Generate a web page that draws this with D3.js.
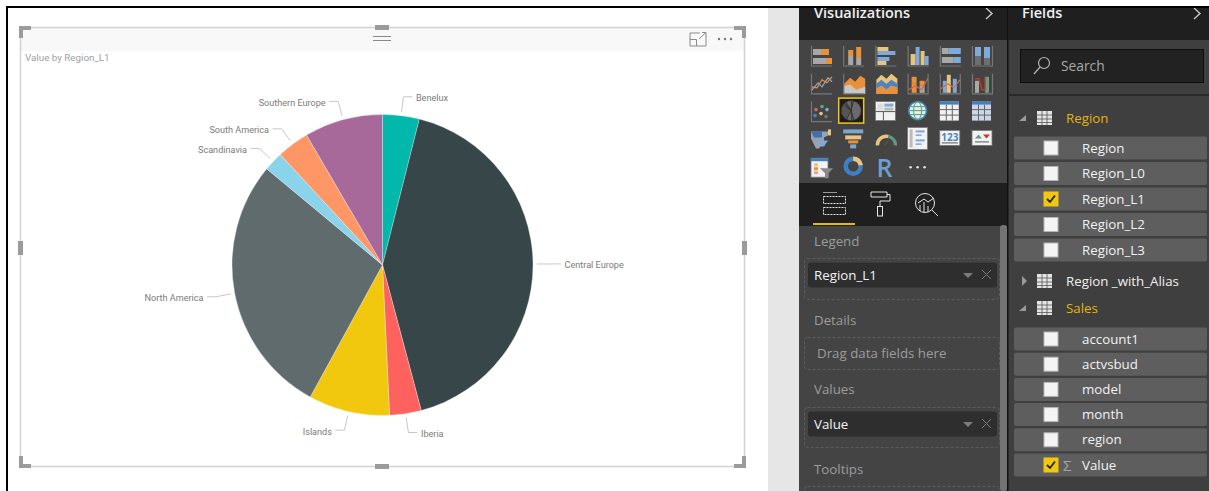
<!DOCTYPE html>
<html>
<head>
<meta charset="utf-8">
<script src="https://cdn.jsdelivr.net/npm/d3@7"></script>
<style>
  html, body { margin: 0; padding: 0; background: #fff; overflow: hidden; }
  svg { display: block; }
  text { font-family: "Open Sans", "Noto Sans", sans-serif; }
</style>
</head>
<body>
<svg id="report" width="1209" height="491"></svg>
<script>
// Sales by region, in the order the slices run clockwise from twelve o'clock
const regions = ["Benelux", "Central Europe", "Iberia", "Islands", "North America", "Scandinavia", "South America", "Southern Europe"];
const values = [3.94, 41.92, 3.39, 8.72, 28.06, 2.08, 3.47, 8.42];
const sliceColors = ["#01b8aa", "#374649", "#fd625e", "#f2c80f", "#5f6b6d", "#8ad4eb", "#fe9666", "#a66999"];
const chartTitle = "Value by Region_L1";

// Field list contents
const regionFields = ["Region", "Region_L0", "Region_L1", "Region_L2", "Region_L3"];
const salesFields = ["account1", "actvsbud", "model", "month", "region", "Value"];
const checkedFields = ["Region_L1", "Value"];

// Visualization gallery, row by row
const galleryIcons = [
  ["stackH", "stackV", "clusterH", "clusterV", "fullH", "fullV"],
  ["line", "area", "stackedArea", "lineStack", "lineCluster", "ribbon"],
  ["scatter", "pie", "treemap", "globe", "table", "matrix"],
  ["map", "funnel", "gauge", "card", "number", "kpi"],
  ["slicer", "donut", "r", "more"]
];

const svg = d3.select("#report");
const orange = "#e8913a", tan = "#e9c47c", blue = "#7ea9d8", grey = "#a8a8a8", axis = "#777";
const paneFont = 13.3;

function box(g, x, y, w, h, fill, extra) {
  const r = g.append("rect").attr("x", x).attr("y", y).attr("width", w).attr("height", h).attr("fill", fill);
  if (extra) Object.entries(extra).forEach(([k, v]) => r.attr(k, v));
  return r;
}
function label(g, x, y, str, size, color, extra) {
  const t = g.append("text").attr("x", x).attr("y", y).attr("dominant-baseline", "central")
    .attr("font-size", size).attr("fill", color).text(str);
  if (extra) Object.entries(extra).forEach(([k, v]) => t.attr(k, v));
  return t;
}

/* ---------- canvas frame ---------- */
box(svg, 0, 0, 1209, 491, "#fff");
box(svg, 768, 8, 31, 483, "#e6e6e6");

/* ---------- visual container ---------- */
const frame = svg.append("g");
box(frame, 21, 28, 723, 23, "#f8f8f8");
frame.append("rect").attr("x", 20.5).attr("y", 27.5).attr("width", 724).attr("height", 439)
  .attr("fill", "none").attr("stroke", "#d2d2d2").attr("stroke-width", 1.5);
// corner and edge grips
const gripColor = "#9b9b9b";
[[19, 26, 1, 1], [746, 26, -1, 1], [19, 468, 1, -1], [746, 468, -1, -1]].forEach(([x, y, sx, sy]) => {
  box(frame, sx > 0 ? x : x - 12, sy > 0 ? y : y - 4, 12, 4, gripColor);
  box(frame, sx > 0 ? x : x - 4, sy > 0 ? y : y - 12, 4, 12, gripColor);
});
box(frame, 375, 25, 14, 5, gripColor);
box(frame, 375, 464, 14, 5, gripColor);
box(frame, 18, 241, 5, 14, gripColor);
box(frame, 742, 241, 5, 14, gripColor);
// drag handle
box(frame, 373, 36, 18, 1, "#888");
box(frame, 373, 40, 18, 1, "#888");
// focus mode and more-options glyphs
frame.append("path").attr("d", "M700 33H690V46H706V36M690 39.5H696.5V46M699 39L706 32.5M702 32.5H706V36.5")
  .attr("fill", "none").attr("stroke", "#8a8a8a").attr("stroke-width", 1);
[719, 725, 731].forEach(x => frame.append("circle").attr("cx", x).attr("cy", 39).attr("r", 1.2).attr("fill", "#777"));

label(frame, 25, 57.5, chartTitle, 9.8, "#a0a0a0").style("font-family", "Roboto");

/* ---------- pie ---------- */
const cx = 382.5, cy = 265, radius = 150.5;
const pie = d3.pie().sort(null).value(d => d)(values);
const arc = d3.arc().innerRadius(0).outerRadius(radius);
const chart = svg.append("g").attr("transform", `translate(${cx},${cy})`);
const color = d3.scaleOrdinal(regions, sliceColors);

chart.selectAll("path.slice").data(pie).join("path")
  .attr("class", "slice")
  .attr("d", arc)
  .attr("fill", (d, i) => color(regions[i]))
  .attr("stroke", "#fff").attr("stroke-width", 0.3);

// Leader lines: out along the mid-angle, then a short horizontal run to the label
const leadStart = d3.arc().innerRadius(radius + 4).outerRadius(radius + 4);
const leadElbow = d3.arc().innerRadius(radius + 19).outerRadius(radius + 19);
const leaderRun = 9, labelGap = 3.5, labelDrop = 1.5;

function side(d) { return (d.startAngle + d.endAngle) / 2 < Math.PI ? 1 : -1; }

chart.selectAll("polyline.leader").data(pie).join("polyline")
  .attr("class", "leader")
  .attr("fill", "none").attr("stroke", "#c8c8c8").attr("stroke-width", 1)
  .attr("points", d => {
    const a = leadStart.centroid(d), b = leadElbow.centroid(d);
    return [a, b, [b[0] + side(d) * leaderRun, b[1]]].join(" ");
  });

chart.selectAll("text.region").data(pie).join("text")
  .attr("class", "region")
  .attr("x", d => leadElbow.centroid(d)[0] + side(d) * (leaderRun + labelGap))
  .attr("y", d => leadElbow.centroid(d)[1] + labelDrop)
  .attr("dominant-baseline", "central")
  .attr("text-anchor", d => side(d) > 0 ? "start" : "end")
  .attr("font-size", 9.1)
  .attr("fill", "#7b7b7b")
  .style("font-family", "Roboto")
  .text((d, i) => regions[i]);

/* ---------- visualizations pane ---------- */
const viz = svg.append("g");
box(viz, 799, 8, 208, 483, "#444444");
box(viz, 799, 8, 208, 32, "#1f1f1f");
label(viz, 814, 12.5, "Visualizations", 14.5, "#f0f0f0", { "font-weight": 600 });
viz.append("path").attr("d", "M986 8L992 13.5L986 19").attr("fill", "none").attr("stroke", "#c8c8c8").attr("stroke-width", 1.4);

const iconGroup = viz.append("g");
const colStep = 32.2, rowStep = 27.8;

function drawIcon(type, g) {
  const bar = (x, y, w, h, f) => box(g, x, y, w, h, f);
  const lineTo = (d, s, w) => g.append("path").attr("d", d).attr("fill", "none").attr("stroke", s).attr("stroke-width", w || 1.2);
  const baseL = () => lineTo("M0.5 0V20H21", axis, 1.2);
  const baseLR = () => lineTo("M0.5 0V20H21M20.5 0V20", axis, 1.2);
  const paper = (x, y, w, h) => box(g, x, y, w, h, "#f2f2f2", { stroke: "#777", "stroke-width": 0.8 });
  switch (type) {
    case "stackH":
      baseL(); bar(2, 3, 8, 6, grey); bar(10, 3, 8, 6, orange); bar(2, 12, 13, 6, grey); bar(15, 12, 6, 6, orange); break;
    case "stackV":
      baseL(); bar(5, 10, 5, 9, grey); bar(5, 4, 5, 6, orange); bar(13, 12, 5, 7, grey); bar(13, 1, 5, 11, orange); break;
    case "clusterH":
      baseL(); bar(2, 1, 11, 4, tan); bar(2, 5, 18, 4, blue); bar(2, 11, 12, 4, blue); bar(2, 15, 9, 4, tan); break;
    case "clusterV":
      baseL(); bar(3, 8, 5, 11, tan); bar(8, 1, 4, 18, blue); bar(13, 5, 4, 14, tan); bar(17, 10, 4, 9, blue); break;
    case "fullH":
      baseL(); bar(2, 2, 7, 6, grey); bar(9, 2, 12, 6, blue); bar(2, 11, 12, 6, grey); bar(14, 11, 7, 6, blue); break;
    case "fullV":
      baseLR(); bar(3, 10, 6, 9, "#6e6e6e"); bar(3, 1, 6, 9, blue); bar(12, 12, 6, 7, "#6e6e6e"); bar(12, 1, 6, 11, blue); break;
    case "line":
      baseL(); lineTo("M1 16L7 9L11 13L17 4L21 8", blue); lineTo("M1 13L6 14L11 6L16 9L21 3", orange); break;
    case "area":
      g.append("path").attr("d", "M1 20V10L7 4L12 8L17 2L22 5V20Z").attr("fill", orange);
      g.append("path").attr("d", "M1 20V12L7 11L13 16L22 13V20Z").attr("fill", "#c8c8c8"); baseL(); break;
    case "stackedArea":
      g.append("path").attr("d", "M1 20V6L6 1L11 5L16 0L22 5V20Z").attr("fill", tan);
      g.append("path").attr("d", "M1 15V10L6 6L11 10L16 6L22 10V14L16 12L11 16L6 12Z").attr("fill", "#4f83c2");
      g.append("path").attr("d", "M1 20V15L6 12L11 16L16 12L22 14V20Z").attr("fill", orange); break;
    case "lineStack":
      baseLR(); bar(4, 10, 5, 9, orange); bar(4, 3, 5, 7, orange); bar(12, 12, 5, 7, grey); bar(12, 7, 5, 5, orange); lineTo("M1 16L8 12L14 16L20 5", "#c96a5a"); break;
    case "lineCluster":
      baseLR(); bar(3, 7, 4, 12, blue); bar(7, 1, 4, 18, tan); bar(13, 5, 4, 14, blue); lineTo("M1 15L8 10L14 14L20 6", "#d96a4a"); break;
    case "ribbon":
      baseLR(); bar(3, 7, 4, 12, grey); bar(13, 3, 4, 16, "#6aa08a"); lineTo("M3 5H7L10 16L13 16L13 3", "#c0392b", 1.4); break;
    case "scatter":
      baseL();
      [[5, 8, "#c96a5a"], [11, 5, "#6aa08a"], [16, 8, blue], [4, 14, "#4f83c2"], [10, 12, tan], [15, 15, "#777"]]
        .forEach(([x, y, f]) => g.append("circle").attr("cx", x).attr("cy", y).attr("r", 1.8).attr("fill", f));
      break;
    case "pie": {
      box(g, -4.5, -3.5, 25, 25, "#1c1c1c", { stroke: "#f2c80f", "stroke-width": 1.5 });
      const mini = d3.pie().sort(null)(values);
      const a = d3.arc().innerRadius(0).outerRadius(10);
      g.append("g").attr("transform", "translate(8,9)").selectAll("path").data(mini).join("path")
        .attr("d", a).attr("fill", (d, i) => i % 2 ? "#6a6a6a" : "#555").attr("stroke", "#2a2a2a").attr("stroke-width", 0.5);
      break;
    }
    case "treemap":
      paper(0, 0, 20, 19); box(g, 2, 2, 6, 7, "#ddd"); box(g, 9, 2, 9, 3, blue); box(g, 9, 6, 9, 3, "#bbb");
      g.append("path").attr("d", "M0 10H20M8 10V19").attr("stroke", "#555").attr("stroke-width", 1); break;
    case "globe":
      g.append("circle").attr("cx", 10).attr("cy", 9).attr("r", 9).attr("fill", "#dfeee8").attr("stroke", "#3f80b8").attr("stroke-width", 1.6);
      lineTo("M1 9H19M2.5 5H17.5M2.5 13H17.5", "#5aa07f", 1);
      g.append("ellipse").attr("cx", 10).attr("cy", 9).attr("rx", 4).attr("ry", 9).attr("fill", "none").attr("stroke", "#5aa07f"); break;
    case "table":
    case "matrix":
      box(g, 0, 0, 19, 19, type === "table" ? "#f2f2f2" : "#c9d7e8");
      box(g, 0, 0, 19, 3, "#3f7fc4");
      lineTo("M6.5 3V19M12.5 3V19M0 8H19M0 13.5H19", "#666", 1); break;
    case "map":
      g.append("path").attr("d", "M0 2H17V6L13 8V12L8 19H5L2 13L0 9Z").attr("fill", "#99a3ad");
      g.append("path").attr("d", "M0 2H11V8H3Z").attr("fill", "#3f6fb0");
      g.append("path").attr("d", "M8 11H17L13 17H9Z").attr("fill", blue);
      bar(17, 0, 3, 6, tan); break;
    case "funnel":
      bar(0, 0, 20, 4, "#7da6cf"); bar(2, 6, 16, 4, tan); bar(5, 11, 10, 3, orange); bar(7, 15, 6, 4, "#7da6cf"); break;
    case "gauge":
      lineTo("M2 16A9 9 0 0 1 13 7", tan, 3.5); lineTo("M13 7A9 9 0 0 1 20 16", "#5f9a80", 3.5); lineTo("M9 16L13 11", "#555", 1.2); break;
    case "card":
      paper(0, -2, 20, 22); box(g, 2, 0, 3, 18, "#bbb"); box(g, 8, 1, 9, 2, blue); box(g, 8, 5, 6, 1.5, blue); box(g, 8, 10, 9, 2, blue); box(g, 8, 14, 6, 1.5, blue); break;
    case "number":
      paper(0, 1, 20, 15);
      g.append("text").attr("x", 10).attr("y", 8).attr("text-anchor", "middle").attr("dominant-baseline", "central")
        .attr("font-size", 10).attr("font-weight", 700).attr("fill", "#4f83c2").text("123");
      box(g, 2, 13, 16, 1, "#555"); break;
    case "kpi":
      paper(0, 1, 20, 15);
      g.append("path").attr("d", "M3 9L6.5 5L10 9Z").attr("fill", "#5f9a80");
      g.append("path").attr("d", "M11 5H18L14.5 9Z").attr("fill", "#c0392b");
      box(g, 3, 12, 14, 1, "#555"); break;
    case "slicer":
      paper(0, 1, 17, 19); box(g, 0, 1, 17, 3, "#3f7fc4"); box(g, 3, 6, 4, 3, tan); box(g, 3, 10, 4, 3, orange); box(g, 3, 14, 4, 3, "#e8a39a");
      g.append("path").attr("d", "M9 11H22L17.5 16V21H14V16Z").attr("fill", "#8a8a8a"); break;
    case "donut":
      g.append("circle").attr("cx", 10).attr("cy", 9).attr("r", 7.5).attr("fill", "none").attr("stroke", "#3f7fc4").attr("stroke-width", 4.5);
      lineTo("M10 1.5A7.5 7.5 0 0 1 17.5 8", tan, 4.5); break;
    case "r":
      g.append("text").attr("x", 9).attr("y", 10).attr("text-anchor", "middle").attr("dominant-baseline", "central")
        .attr("font-size", 25).attr("font-weight", 600).attr("fill", "#6f9fd0").text("R"); break;
    case "more":
      [3, 10, 17].forEach(x => g.append("circle").attr("cx", x).attr("cy", 10).attr("r", 1.2).attr("fill", "#e8e8e8")); break;
  }
}

galleryIcons.forEach((row, r) => row.forEach((type, c) => {
  const g = iconGroup.append("g").attr("transform", `translate(${811 + c * colStep},${46 + r * rowStep})`);
  drawIcon(type, g);
}));

// Tab strip: fields, format, analytics
box(viz, 799, 183, 208, 43, "#1f1f1f");
box(viz, 813, 223, 42, 2, "#e6b80c");
const tabs = viz.append("g").attr("fill", "none").attr("stroke", "#e6e6e6").attr("stroke-width", 1);
tabs.append("path").attr("d", "M823 192.5H837").attr("stroke", "#999");
tabs.append("rect").attr("x", 823.5).attr("y", 196.5).attr("width", 22).attr("height", 7).attr("stroke-dasharray", "2 1");
tabs.append("rect").attr("x", 823.5).attr("y", 207.5).attr("width", 22).attr("height", 7).attr("stroke-dasharray", "2 1");
tabs.append("path").attr("d", "M871 192H887V197H871ZM887 194.5H890V201H880V206");
tabs.append("rect").attr("x", 877.5).attr("y", 206.5).attr("width", 5).attr("height", 9.5);
tabs.append("circle").attr("cx", 925).attr("cy", 203).attr("r", 9.5);
tabs.append("path").attr("d", "M932 210L938 216M920 211V205M924 212V202M928 212V206M918 203L924 199L928 202L934 198");

// Field wells
box(viz, 1000, 225, 7, 266, "#747474", { rx: 3 });
const wellHeaders = [["Legend", 241], ["Details", 320], ["Values", 389], ["Tooltips", 469]];
wellHeaders.forEach(([t, y]) => label(viz, 814, y, t, paneFont, "#9c9c9c"));
const dashed = { fill: "none", stroke: "#5c5c5c", "stroke-dasharray": "3 2", rx: 3 };
box(viz, 804.5, 258.5, 195, 41, "none", dashed);
box(viz, 804.5, 337.5, 195, 32, "none", dashed);
box(viz, 804.5, 407.5, 195, 40, "none", dashed);
box(viz, 804.5, 486.5, 195, 20, "none", dashed);
label(viz, 817, 353, "Drag data fields here", paneFont, "#9c9c9c");

[["Region_L1", 275], ["Value", 424]].forEach(([t, y]) => {
  box(viz, 808, y - 12.5, 189, 25, "#2e2e2e", { rx: 3 });
  label(viz, 814, y - 0.5, t, paneFont, "#f2f2f2");
  viz.append("path").attr("d", `M963 ${y - 2}H973L968 ${y + 3}Z`).attr("fill", "#7c7c7c");
  viz.append("path").attr("d", `M982 ${y - 5}L991 ${y + 4}M991 ${y - 5}L982 ${y + 4}`).attr("stroke", "#7c7c7c").attr("stroke-width", 1);
});

/* ---------- fields pane ---------- */
const fields = svg.append("g");
box(fields, 1007, 8, 202, 483, "#3f3f3f");
box(fields, 1007, 8, 1.5, 483, "#111");
box(fields, 1008, 8, 201, 32, "#1f1f1f");
box(fields, 1008, 94, 201, 2, "#2a2a2a");
label(fields, 1022, 12.5, "Fields", 14.5, "#f0f0f0", { "font-weight": 600 });
fields.append("path").attr("d", "M1194 8L1200 13.5L1194 19").attr("fill", "none").attr("stroke", "#c8c8c8").attr("stroke-width", 1.4);

// Search box
box(fields, 1020.5, 49.5, 183, 33, "#222", { stroke: "#0d0d0d", "stroke-width": 1 });
fields.append("circle").attr("cx", 1044).attr("cy", 63).attr("r", 5.5).attr("fill", "none").attr("stroke", "#b5b5b5").attr("stroke-width", 1.2);
fields.append("path").attr("d", "M1040 67L1034 74").attr("stroke", "#b5b5b5").attr("stroke-width", 1.2);
label(fields, 1061, 65.5, "Search", 13.8, "#a8a8a8");

function tableGlyph(y) {
  box(fields, 1037, y - 7, 15, 14, "#e4e4e4");
  fields.append("path").attr("d", `M1042 ${y - 7}V${y + 7}M1047 ${y - 7}V${y + 7}M1037 ${y - 3}H1052M1037 ${y + 1}H1052M1037 ${y + 4.5}H1052`)
    .attr("stroke", "#555").attr("stroke-width", 0.8);
}
function groupHeader(name, y, expanded, color) {
  const arrow = expanded
    ? `M1026 ${y - 3}V${y + 3}H1019Z`
    : `M1022 ${y - 5}L1027 ${y}L1022 ${y + 5}Z`;
  fields.append("path").attr("d", arrow).attr("fill", "#9a9a9a");
  tableGlyph(y);
  label(fields, 1066, y - 0.5, name, paneFont, color);
}
function fieldRow(name, y) {
  const on = checkedFields.includes(name);
  box(fields, 1014, y - 11.5, 193, 23, "#5e5e5e", { rx: 2 });
  box(fields, 1044, y - 7, 14, 14, on ? "#f2c80f" : "#f4f4f4", { stroke: on ? "#f2c80f" : "#b5b5b5", "stroke-width": 1 });
  if (on) fields.append("path").attr("d", `M1047 ${y}L1050 ${y + 3}L1055 ${y - 3.5}`).attr("fill", "none").attr("stroke", "#222").attr("stroke-width", 1.8);
  if (name === "Value") label(fields, 1063, y, "Σ", 15, "#a5a5a5");
  label(fields, 1082, y - 0.5, name, paneFont, "#f2f2f2");
}

groupHeader("Region", 118, true, "#e3b40e");
regionFields.forEach((f, i) => fieldRow(f, 148 + i * 25.5));
groupHeader("Region _with_Alias", 281, false, "#efefef");
groupHeader("Sales", 308, true, "#e3b40e");
salesFields.forEach((f, i) => fieldRow(f, 339 + i * 25.2));

/* ---------- window edge, painted last so it clips the pane headers ---------- */
box(svg, 0, 0, 1209, 6, "#fff");
box(svg, 6, 6, 1203, 2, "#000");
box(svg, 6, 6, 2, 485, "#000");
</script>
</body>
</html>
